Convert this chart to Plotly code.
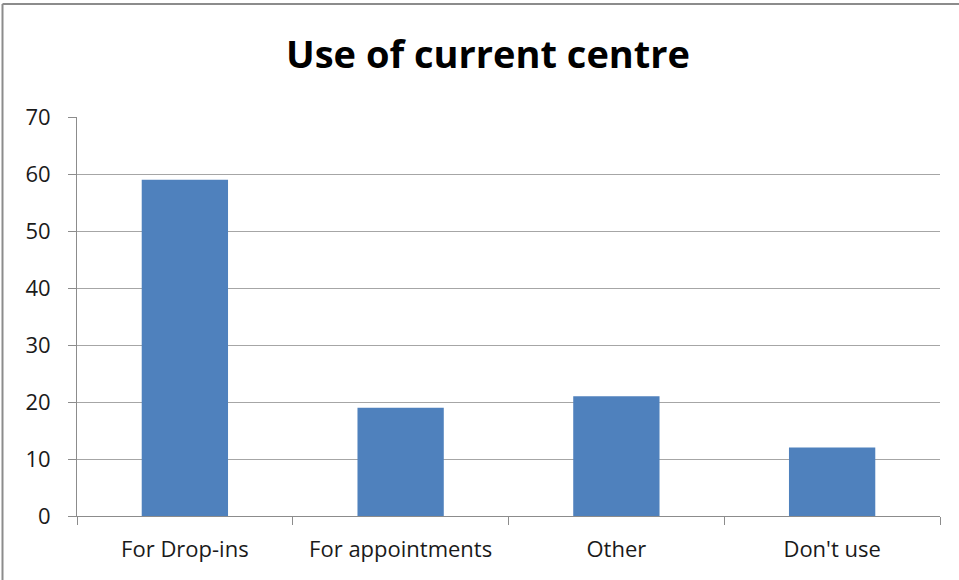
import plotly.graph_objects as go

categories = ["For Drop-ins", "For appointments", "Other", "Don't use"]
values = [59, 19, 21, 12]
y_ticks = [0, 10, 20, 30, 40, 50, 60, 70]

W, H = 959, 580
L, R, T, B = 77, 19, 117, 64
pw, ph = W - L - R, H - T - B

fig = go.Figure(go.Bar(x=categories, y=values, marker=dict(color="#4F81BD", line=dict(width=0)),
                       width=0.4))

def px_x(x):
    return (x - L) / pw

def px_y(y):
    return (H - B - y) / ph

border = "#8c8c8c"
fig.add_shape(type="line", xref="paper", yref="paper", x0=px_x(2.5), x1=px_x(2.5),
              y0=px_y(4), y1=px_y(H + 20), line=dict(color=border, width=2))
fig.add_shape(type="line", xref="paper", yref="paper", x0=px_x(2.5), x1=px_x(W + 20),
              y0=px_y(4), y1=px_y(4), line=dict(color=border, width=2))

fig.update_layout(
    width=W, height=H,
    margin=dict(l=L, r=R, t=T, b=B),
    paper_bgcolor="white", plot_bgcolor="white",
    showlegend=False,
    title=dict(text="<b>Use of current centre</b>", x=488 / W, xanchor="center", y=1 - 55 / H,
               yanchor="middle", xref="container",
               font=dict(family="Open Sans", size=38, color="black")),
    font=dict(family="Open Sans", size=22, color="#1a1a1a"),
    xaxis=dict(showline=True, linecolor="#8c8c8c", linewidth=1, ticks="outside", ticklen=8,
               tickcolor="#8c8c8c", tickson="boundaries", showgrid=False, ticklabelstandoff=14,
               tickfont=dict(size=22, color="#1a1a1a")),
    yaxis=dict(range=[0, 70], tickvals=y_ticks, showline=True, linecolor="#8c8c8c", linewidth=1,
               ticks="outside", ticklen=8, tickcolor="#8c8c8c", gridcolor="#a6a6a6", gridwidth=1,
               zeroline=False, ticklabelstandoff=13, tickfont=dict(size=22, color="#1a1a1a")),
)

fig.write_html("out.html", config={"displayModeBar": False},
               post_script="document.body.style.margin='0';document.body.style.overflow='hidden';")
